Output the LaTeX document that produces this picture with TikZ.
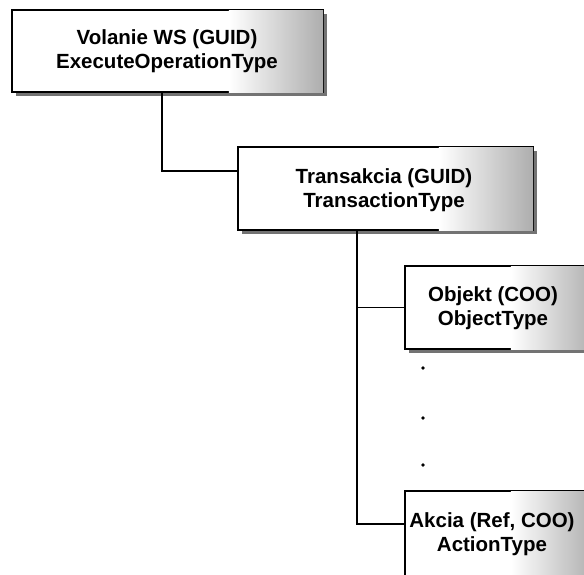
\documentclass[tikz,border=0pt]{standalone}
\usepackage{fontspec}
\setmainfont{Liberation Sans}
\usetikzlibrary{shadows}
\tikzset{
  box/.style={draw=black, line width=1.6pt, fill=white, rectangle, inner sep=0pt,
    drop shadow={shadow xshift=4pt, shadow yshift=-4pt, fill=black!55, opacity=1}},
  lbl/.style={align=center, font=\bfseries\fontsize{20.5}{24}\selectfont, inner sep=0pt},
  conn/.style={draw=black, line width=1.4pt},
  dotmark/.style={circle, fill=black, inner sep=0pt, minimum size=3.8pt},
  fade/.style={left color=white, right color=black!32}
}
\begin{document}
\begin{tikzpicture}[x=1pt,y=-1pt]
\path[use as bounding box, fill=white] (0,0) rectangle (584,574);
\clip (0,0) rectangle (584,574);

% boxes
\node[box, minimum width=311pt, minimum height=82pt] (b1) at (167.5,51) {};
\node[box, minimum width=295pt, minimum height=83pt] (b2) at (385.5,188.5) {};
\node[box, minimum width=190pt, minimum height=83pt] (b3) at (500,307.5) {};
\node[box, minimum width=190pt, minimum height=89pt] (b4) at (500,535.5) {};

% halftone-like fading on the right side
\shade[fade] ([xshift=-95pt,yshift=-0.8pt]b1.north east) rectangle ([xshift=-0.8pt,yshift=0.8pt]b1.south east);
\shade[fade] ([xshift=-95pt,yshift=-0.8pt]b2.north east) rectangle ([xshift=-0.8pt,yshift=0.8pt]b2.south east);
\shade[fade] ([xshift=-85pt,yshift=-0.8pt]b3.north east) rectangle ([xshift=-0.8pt,yshift=0.8pt]b3.south east);
\shade[fade] ([xshift=-85pt,yshift=-0.8pt]b4.north east) rectangle ([xshift=-0.8pt,yshift=0.8pt]b4.south east);

% labels
\node[lbl] (t1) at (167,51.5) {Volanie WS (GUID)\\ExecuteOperationType};
\node[lbl] (t2) at (384,190) {Transakcia (GUID)\\TransactionType};
\node[lbl] (t3) at (493,308) {Objekt (COO)\\ObjectType};
\node[lbl] (t4) at (492,534) {Akcia (Ref, COO)\\ActionType};

% connectors
\coordinate (c1) at ([xshift=-5.5pt]b1.south);
\coordinate (e2) at ([yshift=17.5pt]b2.west);
\draw[conn] (c1) |- (e2);

\coordinate (c2) at ([xshift=-28.5pt]b2.south);
\coordinate (e4) at ([yshift=11.5pt]b4.west);
\draw[conn] (c2) |- (e4);
\draw[conn] (c2 |- b3.west) -- (b3.west);

% dots
\node[dotmark] (d1) at (423,368) {};
\node[dotmark] (d2) at (423,418) {};
\node[dotmark] (d3) at (423,465) {};
\end{tikzpicture}
\end{document}
